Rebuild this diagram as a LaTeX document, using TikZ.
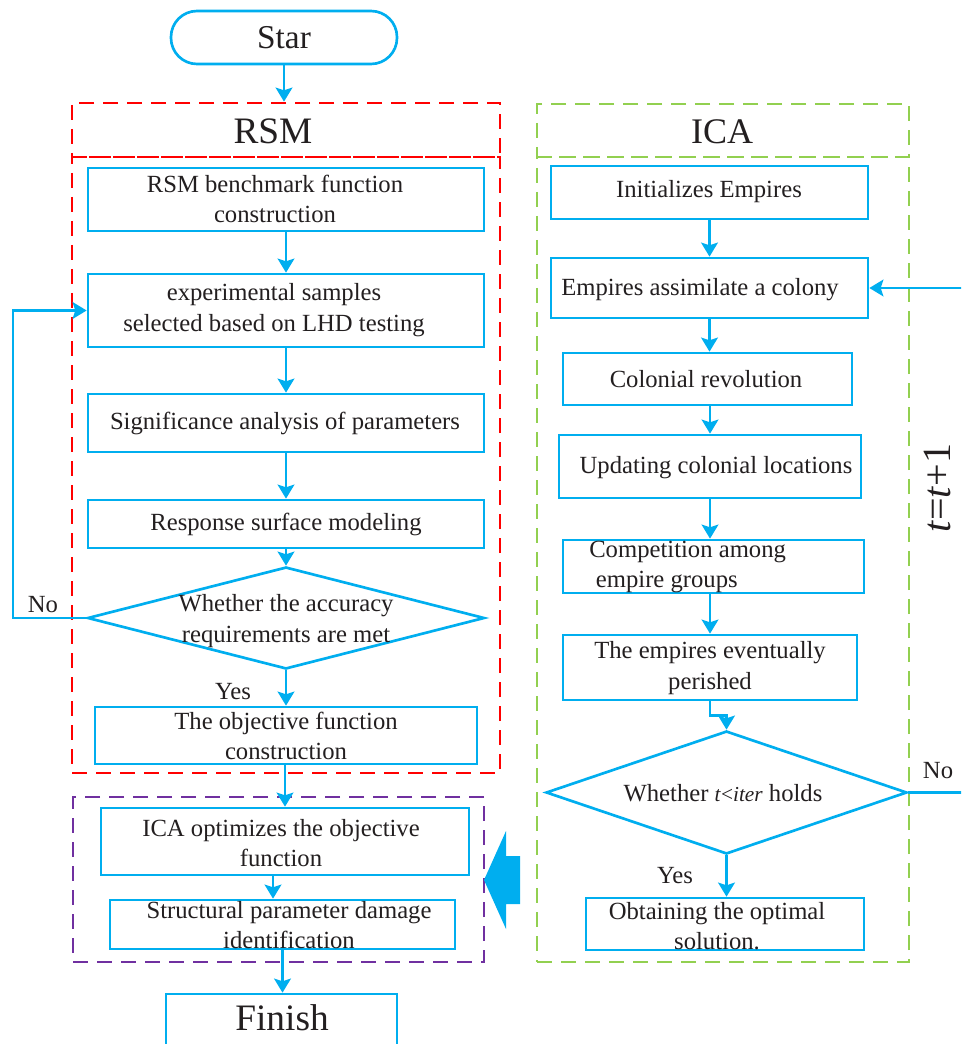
\documentclass[tikz,border=0pt]{standalone}
\usepackage{fontspec}
\setmainfont{Liberation Serif}
\usetikzlibrary{shapes.geometric,arrows.meta,fit,calc}
\definecolor{bl}{HTML}{00AEEF}
\definecolor{rd}{HTML}{FF0000}
\definecolor{gr}{HTML}{92D050}
\definecolor{pu}{HTML}{7030A0}
\definecolor{tx}{HTML}{231F20}
\begin{document}
\begin{tikzpicture}[x=0.75pt,y=-0.75pt,
 box/.style={draw=bl,line width=2pt,inner sep=0pt,fill=white},
 dbox/.style={line width=2pt,dash pattern=on 11pt off 7pt,inner sep=0pt},
 txt/.style={text=tx,align=center,inner sep=0pt,font=\fontsize{18.5pt}{23pt}\selectfont},
 big/.style={text=tx,inner sep=0pt,font=\fontsize{28pt}{34pt}\selectfont},
 arr/.style={draw=bl,line width=2pt,-{Stealth[length=10.5pt,width=12.5pt,inset=2pt]}},
 dia/.style={draw=bl,line width=2pt,diamond,inner sep=0pt,fill=white}
]
\useasboundingbox (0,0) rectangle (961,1044);
\clip (0,0) rectangle (961,1044);
% frames
\node[dbox,draw=rd,fit={(72,103) (500,157)}] (rsmhead) {};
\node[dbox,draw=rd,fit={(72,157) (500,773)}] (rsmbody) {};
\node[dbox,draw=gr,fit={(537,104) (909,157)}] (icahead) {};
\node[dbox,draw=gr,fit={(537,157) (909,962)}] (icabody) {};
\node[dbox,draw=pu,fit={(73,797) (484,962)}] (purp) {};
\node[big] (rsmt) at (273,131) {RSM};
\node[big,font=\fontsize{27pt}{32pt}\selectfont] (icat) at (722,132) {ICA};
% start
\node[box,rounded corners=19.5pt,fit={(171,11) (397,64)}] (star) {};
\node[big,font=\fontsize{25pt}{30pt}\selectfont] (start) at (284,38) {Star};
% RSM column
\node[box,fit={(88,168) (484,231)}] (b1) {};
\node[txt] (t1) at (275,199) {RSM benchmark function\\construction};
\node[box,fit={(88,274) (484,347)}] (b2) {};
\node[txt] (t2) at (274,310) {experimental samples\\selected based on LHD testing};
\node[box,fit={(88,394) (484,452)}] (b3) {};
\node[txt] (t3) at (285,423) {Significance analysis of parameters};
\node[box,fit={(88,500) (484,548)}] (b4) {};
\node[txt] (t4) at (286,524) {Response surface modeling};
\node[dia,minimum width=297.75pt,minimum height=76.5pt] (d1) at (286,618) {};
\node[txt] (td1) at (286,621) {Whether the accuracy\\requirements are met};
\node[box,fit={(95,707) (477,764)}] (b5) {};
\node[txt] (t5) at (286,736) {The objective function\\construction};
\node[box,fit={(101,808) (469,875)}] (b6) {};
\node[txt] (t6) at (281,843) {ICA optimizes the objective\\function};
\node[box,fit={(110,900) (455,949)}] (b7) {};
\node[txt] (t7) at (289,925) {Structural parameter damage\\identification};
\node[box,fit={(166,994) (397,1080)}] (fin) {};
\node[big] (fint) at (282,1018) {Finish};
\node[txt] (no1) at (43,605) {No};
\node[txt] (yes1) at (233,692) {Yes};
% ICA column
\node[box,fit={(551,166) (868,219)}] (bA) {};
\node[txt] (tA) at (709,192) {Initializes Empires};
\node[box,fit={(551,258) (868,318)}] (bB) {};
\node[txt] (tB) at (700,290) {Empires assimilate a colony};
\node[box,fit={(563,353) (852,405)}] (bC) {};
\node[txt] (tC) at (706,379) {Colonial revolution};
\node[box,fit={(559,435) (861,498)}] (bD) {};
\node[txt] (tD) at (716,468) {Updating colonial locations};
\node[box,fit={(563,540) (864,593)}] (bE) {};
\node[txt,align=left,anchor=west] (tE) at (589,567) {Competition among\\\hspace{5pt}empire groups};
\node[box,fit={(563,635) (857,700)}] (bF) {};
\node[txt] (tF) at (710,668) {The empires eventually\\perished};
\node[dia,minimum width=270.75pt,minimum height=92.25pt] (d2) at (726.5,792.5) {};
\node[txt] (td2) at (723,793) {Whether {\fontsize{16pt}{20pt}\selectfont\textit{t}<\textit{iter}} holds};
\node[box,fit={(586,898) (864,950)}] (bG) {};
\node[txt] (tG) at (717,926) {Obtaining the optimal\\solution.};
\node[txt] (no2) at (938,771) {No};
\node[txt] (yes2) at (675,876) {Yes};
\node[txt,font=\fontsize{30pt}{36pt}\selectfont,rotate=90] (tt) at (937,488) {\textit{t}=\textit{t}+1};
% connectors
\coordinate (loopL) at (13,0);
\coordinate (loopR) at (963,0);
\draw[arr] (star.south) -- (star.south |- rsmhead.north);
\draw[arr] (b1) -- (b2);
\draw[arr] (b2) -- (b3);
\draw[arr] (b3) -- (b4);
\draw[arr] (b4) -- (d1);
\draw[arr] (d1) -- (b5);
\draw[arr] ([xshift=-0.75pt]b5.south) -- ([xshift=-0.75pt]b5.south |- b6.north);
\draw[arr] ([xshift=-9pt]b6.south) -- ([xshift=-9pt]b6.south |- b7.north);
\draw[arr] (b7.south) -- (b7.south |- fin.north);
\draw[arr] (d1.west) -- (d1.west -| loopL) |- (b2.west);
\draw[arr] (bA) -- (bB);
\draw[arr] (bB.south) -- (bB.south |- bC.north);
\draw[arr] (bD.north |- bC.south) -- (bD.north);
\draw[arr] (bD.south) -- (bD.south |- bE.north);
\draw[arr] (bF.north |- bE.south) -- (bF.north);
\draw[arr] (bF.south) -- ++(0,14) -| (d2.north);
\draw[arr] (d2.south) -- (d2.south |- bG.north);
\draw[arr] (d2.east) -- (d2.east -| loopR) |- (bB.east);
% big arrow
\fill[bl] (484,880) -- (506,831) -- (506,856) -- (520,856) -- (520,904) -- (506,904) -- (506,929) -- cycle;
\end{tikzpicture}
\end{document}
